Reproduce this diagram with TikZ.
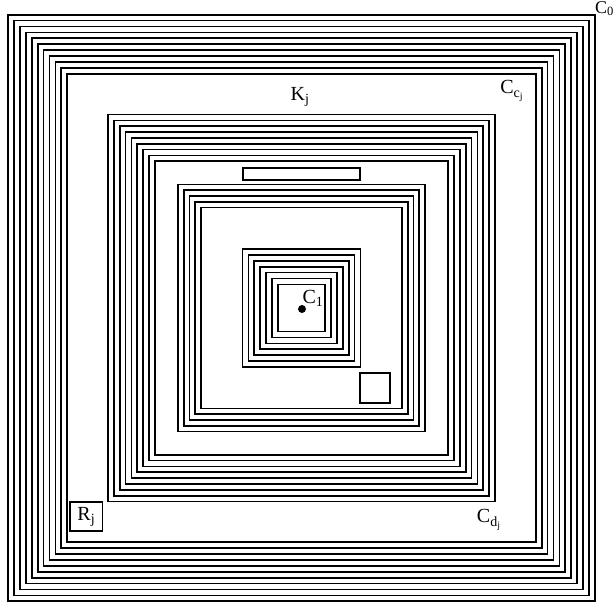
\documentclass[tikz,border=0pt]{standalone}
\usepackage{fontspec}
\setmainfont{Liberation Serif}
\begin{document}
\begin{tikzpicture}[x=1pt,y=-1pt,
  sq/.style={line width=1.7pt},
  thinbox/.style={line width=1.4pt},
  lab/.style={font=\fontsize{20}{24}\selectfont, inner sep=0pt}]
\useasboundingbox (0,0) rectangle (616,608);
\foreach \h/\n/\s in {293.3/10/5.9, 193.5/8/5.85, 123.5/4/5.75, 59/6/5.9} {
  \foreach \i in {0,...,\n} {
    \pgfmathsetmacro\dd{\h-\i*\s}
    \draw[sq] (301.5-\dd,308-\dd) rectangle (301.5+\dd,308+\dd);
  }
}
% bar and small square
\draw[thinbox] (243,168) rectangle (360,180);
\draw[thinbox] (360,373) rectangle (390,403);
% R_j box
\node[lab, draw, thinbox, minimum width=32.5pt, minimum height=29pt] (rj) at (86.3,516.5) {R\textsubscript{j}};
% dot
\fill (302,309) circle (4);
% labels
\node[lab] (kj) at (300,97) {K\textsubscript{j}};
\node[lab] (ccj) at (512,91) {C\textsubscript{c\textsubscript{j}}};
\node[lab] (cdj) at (489,520) {C\textsubscript{d\textsubscript{j}}};
\node[lab] (c1) at (313,298) {C\textsubscript{1}};
\node[lab, font=\fontsize{18}{22}\selectfont, anchor=north east, inner sep=2pt] (c0) at (616,-1) {C\textsubscript{0}};
\end{tikzpicture}
\end{document}
